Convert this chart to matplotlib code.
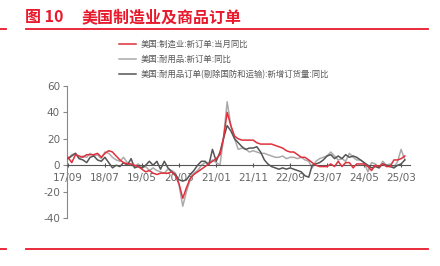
import matplotlib
matplotlib.use('Agg')
import matplotlib.pyplot as plt
import matplotlib.dates as mdates
import pandas as pd

plt.rcParams['axes.unicode_minus'] = False

# monthly, 2017/09 .. 2025/04
months = pd.date_range('2017-09-01', periods=92, freq='MS')

mfg_new_orders = [
    6, 2, 8, 7, 6, 8, 8, 8, 9, 6, 9, 11, 10, 7, 4, 2, 1, 1, 0, -1,
    -3, -5, -4, -6, -7, -6, -6, -6, -5, -8, -14, -25, -17, -10, -7, -5, -3, -1, 1, 3,
    5, 8, 20, 40, 30, 22, 20, 19, 19, 19, 19, 17, 16, 16, 16, 16, 15, 14, 13, 11,
    10, 10, 8, 6, 6, 4, 2, 0, -1, -1, -1, 1, -1, 3, -1, 2, 2, -2, 1, 1,
    1, -1, -4, 0, -1, 1, -1, -1, 4, 4, 5, 7,
]
durable_new_orders = [
    5, 8, 9, 5, 7, 6, 9, 7, 8, 5, 10, 9, 6, 4, 3, 6, 2, 0, -1, 1,
    -2, -1, -4, -2, -4, -5, -6, -3, -4, -6, -15, -31, -20, -11, -6, -4, 0, 2, 2, 4,
    2, 0, 20, 48, 30, 20, 12, 13, 12, 10, 11, 10, 9, 9, 8, 7, 6, 6, 7, 5,
    6, 6, 5, 6, 4, 3, -2, 3, 5, 6, 7, 10, 7, 4, 5, 3, 9, 6, 4, 4,
    2, -5, 2, 1, -2, 3, 0, 1, -2, 3, 12, 4,
]
core_durable_orders = [
    5, 7, 9, 5, 4, 2, 6, 7, 4, 3, 6, 2, -2, 0, -1, 2, 0, 5, -2, -1,
    -2, 0, 3, 0, 3, -3, 3, -2, -5, -7, -11, -12, -11, -7, -4, 0, 3, 3, 0, 12,
    3, 10, 20, 30, 26, 20, 17, 14, 12, 13, 13, 14, 10, 4, 1, -1, -2, -3, -2, -3,
    -2, -3, -4, -5, -8, -9, 0, 1, 2, 4, 7, 8, 5, 7, 5, 8, 6, 7, 6, 4,
    2, 0, -2, -1, -2, 1, 0, -1, -2, 0, 1, 4,
]

labels = ['美国:制造业:新订单:当月同比',
          '美国:耐用品:新订单:同比',
          '美国:耐用品订单(剔除国防和运输):新增订货量:同比']
colors = ['#e0303c', '#aaaaaa', '#555555']

cjk = ['Noto Sans CJK SC', 'DejaVu Sans']
num_font = 'Liberation Sans Narrow'

fig = plt.figure(figsize=(4.4, 2.66), dpi=100)
ax = fig.add_axes([0.152, 0.180, 0.780, 0.497])

ax.plot(months, mfg_new_orders, color=colors[0], lw=1.1, label=labels[0], zorder=4)
ax.plot(months, durable_new_orders, color=colors[1], lw=1.1, label=labels[1], zorder=2)
ax.plot(months, core_durable_orders, color=colors[2], lw=1.1, label=labels[2], zorder=3)

ax.set_ylim(-40, 60)
ax.set_yticks([-40, -20, 0, 20, 40, 60])
ax.set_xlim(months[0] - pd.Timedelta(days=10), months[0] + pd.Timedelta(days=int(92.4 * 30.44)))
ax.set_xticks(months[::10])
ax.xaxis.set_major_formatter(mdates.DateFormatter('%y/%m'))

for s in ['top', 'right']:
    ax.spines[s].set_visible(False)
ax.spines['bottom'].set_position(('data', 0))
ax.spines['bottom'].set_color('#555555')
ax.spines['left'].set_color('#888888')
ax.tick_params(axis='y', colors='#888888', labelcolor='#666666', length=3, pad=2)
ax.tick_params(axis='x', colors='#555555', labelcolor='#666666', length=3,
               direction='inout', pad=4)
for t in ax.get_xticklabels() + ax.get_yticklabels():
    t.set_family(num_font)
    t.set_fontsize(7.5)

leg = ax.legend(loc='upper left', bbox_to_anchor=(0.262, 0.864),
                bbox_transform=fig.transFigure, frameon=False,
                prop={'family': cjk, 'size': 6}, handlelength=2.1,
                handletextpad=0.5, labelspacing=0.75, borderaxespad=0)
for t in leg.get_texts():
    t.set_color('#555555')

red = '#e8192c'
fig.text(0.057, 0.935, '图 10', color=red, fontsize=11.5, fontweight='bold',
         family=cjk, va='center')
fig.text(0.186, 0.935, '美国制造业及商品订单', color=red, fontsize=11.5,
         fontweight='bold', family=cjk, va='center')

for y in [1 - 28.5 / 266, 1 - 249 / 266]:
    fig.add_artist(plt.Line2D([0.058, 0.972], [y, y], color=red, lw=1.3,
                              transform=fig.transFigure))
    fig.add_artist(plt.Line2D([0.0, 0.014], [y, y], color=red, lw=1.3,
                              transform=fig.transFigure))

fig.savefig('out.png', dpi=100)
